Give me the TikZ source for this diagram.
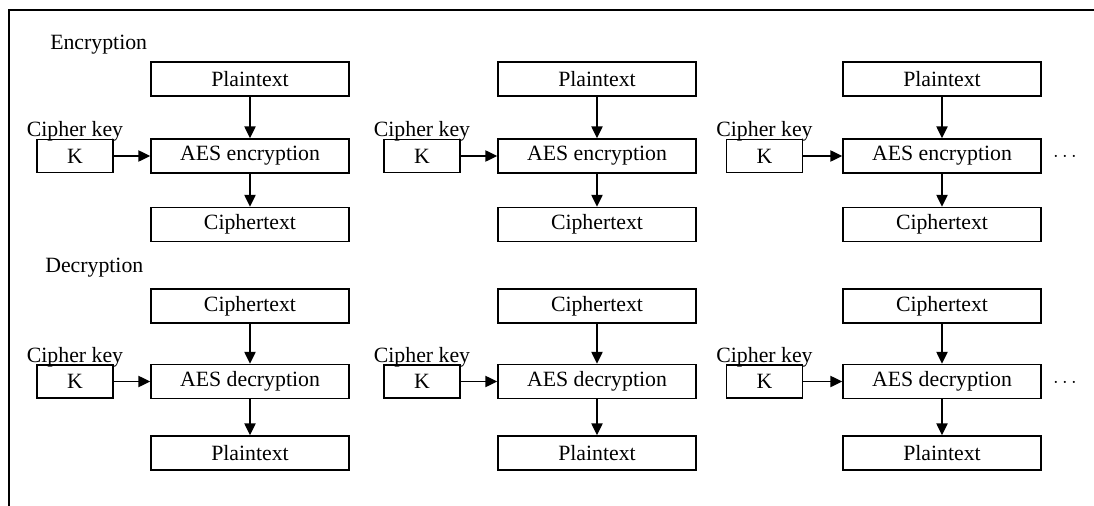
\documentclass[tikz,border=0pt]{standalone}
\usepackage{fontspec}
\setmainfont{Liberation Serif}
\usetikzlibrary{arrows.meta,positioning}

\begin{document}
\begin{tikzpicture}[
    x=0.025cm,
    y=-0.025cm,
    box/.style={
        draw,
        line width=1pt,
        minimum width=4.95cm,
        minimum height=0.85cm,
        inner sep=0pt,
        font=\fontsize{15.5}{17}\selectfont
    },
    keybox/.style={
        box,
        minimum width=1.9cm,
        minimum height=0.82cm
    },
    lbl/.style={
        inner sep=0pt,
        font=\fontsize{15.5}{17}\selectfont
    },
    arr/.style={
        -{Triangle[length=8.5pt,width=8pt]},
        line width=1pt
    }
]
\useasboundingbox (0,0) rectangle (1094,506);

% frame
\draw[line width=1pt] (1094,10) -- (9,10) -- (9,506);

% section titles
\node[lbl,anchor=west] (ET) at (50,45) {Encryption};
\node[lbl,anchor=west] (DT) at (45,268) {Decryption};

% encryption, first column
\node[box] (P1) at (250,79) {Plaintext};
\node[box] (E1) at (250,156) {AES encryption};
\node[box] (C1) at (250,224.5) {Ciphertext};
\node[keybox] (K1) at (75,156) {K};
\node[lbl,above=-2pt of K1] (L1) {Cipher key};

% encryption, second column
\node[box] (P2) at (597,79) {Plaintext};
\node[box] (E2) at (597,156) {AES encryption};
\node[box] (C2) at (597,224.5) {Ciphertext};
\node[keybox] (K2) at (422,156) {K};
\node[lbl,above=-2pt of K2] (L2) {Cipher key};

% encryption, third column
\node[box] (P3) at (942,79) {Plaintext};
\node[box] (E3) at (942,156) {AES encryption};
\node[box] (C3) at (942,224.5) {Ciphertext};
\node[keybox] (K3) at (764.5,156) {K};
\node[lbl,above=-2pt of K3] (L3) {Cipher key};
\node[lbl] (M1) at (1065,157) {$\cdots$};

% decryption, first column
\node[box] (Q1) at (250,306) {Ciphertext};
\node[box] (D1) at (250,381.5) {AES decryption};
\node[box] (R1) at (250,453) {Plaintext};
\node[keybox] (J1) at (75,381.5) {K};
\node[lbl,above=-2pt of J1] (N1) {Cipher key};

% decryption, second column
\node[box] (Q2) at (597,306) {Ciphertext};
\node[box] (D2) at (597,381.5) {AES decryption};
\node[box] (R2) at (597,453) {Plaintext};
\node[keybox] (J2) at (422,381.5) {K};
\node[lbl,above=-2pt of J2] (N2) {Cipher key};

% decryption, third column
\node[box] (Q3) at (942,306) {Ciphertext};
\node[box] (D3) at (942,381.5) {AES decryption};
\node[box] (R3) at (942,453) {Plaintext};
\node[keybox] (J3) at (764.5,381.5) {K};
\node[lbl,above=-2pt of J3] (N3) {Cipher key};
\node[lbl] (M2) at (1065,383) {$\cdots$};

% arrows
\draw[arr] (P1) -- (E1);
\draw[arr] (E1) -- (C1);
\draw[arr] (K1) -- (E1);
\draw[arr] (P2) -- (E2);
\draw[arr] (E2) -- (C2);
\draw[arr] (K2) -- (E2);
\draw[arr] (P3) -- (E3);
\draw[arr] (E3) -- (C3);
\draw[arr] (K3) -- (E3);

\draw[arr] (Q1) -- (D1);
\draw[arr] (D1) -- (R1);
\draw[arr] (J1) -- (D1);
\draw[arr] (Q2) -- (D2);
\draw[arr] (D2) -- (R2);
\draw[arr] (J2) -- (D2);
\draw[arr] (Q3) -- (D3);
\draw[arr] (D3) -- (R3);
\draw[arr] (J3) -- (D3);

\end{tikzpicture}
\end{document}
